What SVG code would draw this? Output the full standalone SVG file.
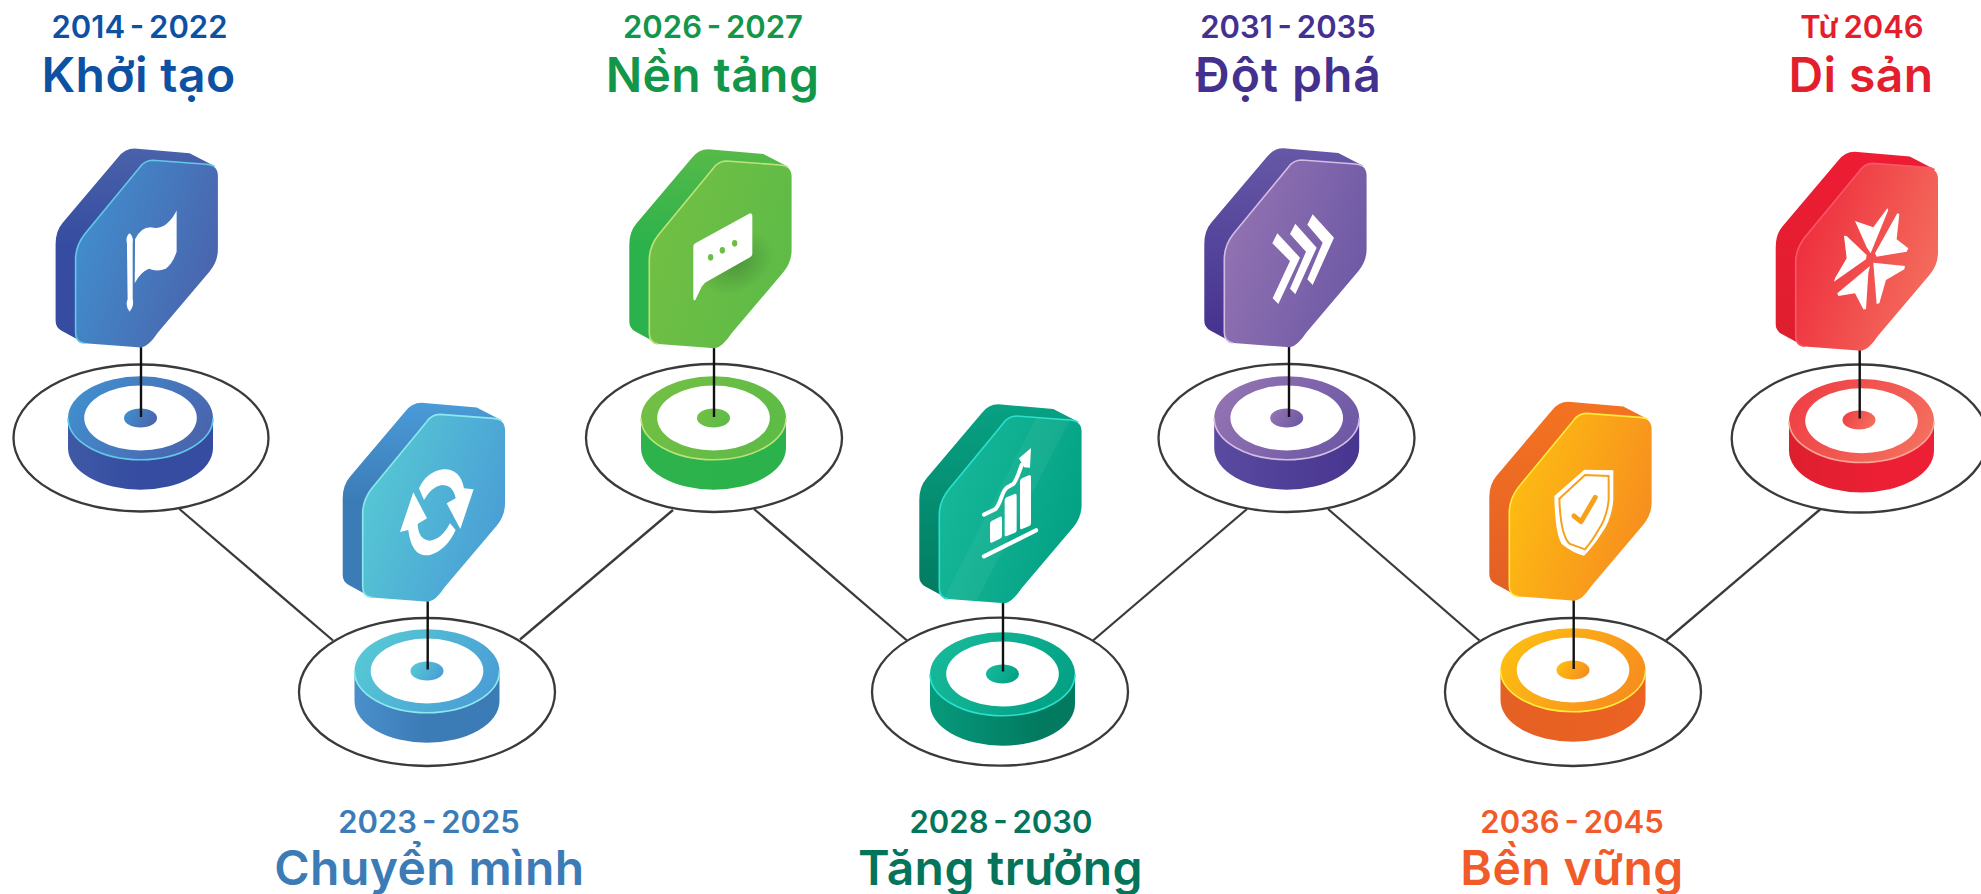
<svg xmlns="http://www.w3.org/2000/svg" width="1981" height="894" viewBox="0 0 1981 894">
<style>
.d{font:600 31px Inter,"Noto Sans",sans-serif;text-anchor:middle;word-spacing:-3px}
.t{font:600 48px Inter,"Noto Sans",sans-serif;text-anchor:middle;letter-spacing:.4px}
.big{fill:#fff;stroke:#3a3a3c;stroke-width:2.3}
.pin{stroke:#111;stroke-width:2.4;fill:none}
.conn{stroke:#3a3a3c;stroke-width:2.3;fill:none}
.hl{fill:none;stroke-width:1.6}
.ic{fill:#fff}
</style>
<defs>
<path id="face" d="M12.3-187.3L65.7-183.3Q77.3-182.3 77.3-171.7L77.3-98.3Q77.3-86 69-76L17.3-15Q8-1 .7 0L-56-4.3Q-65-5-65-15L-65-88.3Q-65-101.7-56-113.3L-1-180Q4-187.3 12.3-187.3Z"/>
<path id="back" d="M-6-199L49-194.3L72.3-182.3L0-100L-56-4.3L-79-16.7Q-85-20-85-26.7L-85-103.3Q-85-116.7-77.7-125L-22.7-190Q-16-199-6-199Z"/>
<path id="edge" d="M-56-4.3Q-65-5-65-15L-65-88.3Q-65-101.7-56-113.3L-1-180Q4-187.3 12.3-187.3L65.7-183.3Q71-183 74-181"/>
<path id="side" d="M-72.5-21V9A72.5 41.7 0 0 0 72.5 9V-21Z"/>
<path id="rimedge" d="M-72.5-21A72.5 41.7 0 0 0 72.5-21"/>
<linearGradient id="f1" x1="0" y1=".3" x2="1" y2=".7"><stop offset="0" stop-color="#418FCE"/><stop offset="1" stop-color="#4A62AC"/></linearGradient>
<linearGradient id="b1" x1="0" y1="0" x2="0" y2="1"><stop offset="0" stop-color="#4A62AA"/><stop offset=".5" stop-color="#354CA0"/></linearGradient>
<linearGradient id="s1"><stop offset="0" stop-color="#4059A6"/><stop offset=".5" stop-color="#354CA0"/></linearGradient>
<linearGradient id="f2" x1="0" y1=".3" x2="1" y2=".7"><stop offset="0" stop-color="#56C9D4"/><stop offset="1" stop-color="#4A9CD6"/></linearGradient>
<linearGradient id="b2" x1="0" y1="0" x2="0" y2="1"><stop offset="0" stop-color="#4A9BD8"/><stop offset=".5" stop-color="#3B7CB7"/></linearGradient>
<linearGradient id="s2"><stop offset="0" stop-color="#4A8FCB"/><stop offset=".5" stop-color="#3B7BB6"/></linearGradient>
<linearGradient id="f3" x1="0" y1=".3" x2="1" y2=".7"><stop offset="0" stop-color="#73BF44"/><stop offset="1" stop-color="#5CBB47"/></linearGradient>
<linearGradient id="b3" x1="0" y1="0" x2="0" y2="1"><stop offset="0" stop-color="#57BA48"/><stop offset=".5" stop-color="#2BB24C"/></linearGradient>
<linearGradient id="s3"><stop offset="0" stop-color="#2EB34B"/><stop offset="1" stop-color="#2BB24C"/></linearGradient>
<linearGradient id="f4" x1="0" y1=".3" x2="1" y2=".7"><stop offset="0" stop-color="#17B99A"/><stop offset="1" stop-color="#03A083"/></linearGradient>
<linearGradient id="b4" x1="0" y1="0" x2="0" y2="1"><stop offset="0" stop-color="#08A183"/><stop offset="1" stop-color="#027A60"/></linearGradient>
<linearGradient id="s4"><stop offset="0" stop-color="#079A7C"/><stop offset=".75" stop-color="#027A60"/></linearGradient>
<linearGradient id="f5" x1="0" y1=".3" x2="1" y2=".7"><stop offset="0" stop-color="#9373B2"/><stop offset="1" stop-color="#6C58A5"/></linearGradient>
<linearGradient id="b5" x1="0" y1="0" x2="0" y2="1"><stop offset="0" stop-color="#6658A6"/><stop offset="1" stop-color="#44318F"/></linearGradient>
<linearGradient id="s5"><stop offset="0" stop-color="#5A4AA0"/><stop offset="1" stop-color="#47358F"/></linearGradient>
<linearGradient id="f6" x1="0" y1=".3" x2="1" y2=".7"><stop offset="0" stop-color="#FDBE12"/><stop offset="1" stop-color="#F78B1F"/></linearGradient>
<linearGradient id="b6" x1="0" y1="0" x2="0" y2="1"><stop offset="0" stop-color="#F47321"/><stop offset="1" stop-color="#E25F25"/></linearGradient>
<linearGradient id="s6"><stop offset="0" stop-color="#E56024"/><stop offset="1" stop-color="#EC6322"/></linearGradient>
<linearGradient id="f7" x1="0" y1=".3" x2="1" y2=".7"><stop offset="0" stop-color="#EE2B3C"/><stop offset="1" stop-color="#F4705E"/></linearGradient>
<linearGradient id="r7" x1="0" y1=".3" x2="1" y2=".7"><stop offset="0" stop-color="#EF3F45"/><stop offset="1" stop-color="#F4705E"/></linearGradient>
<linearGradient id="b7" x1="0" y1="0" x2="0" y2="1"><stop offset="0" stop-color="#EE1C34"/><stop offset="1" stop-color="#DD1F2E"/></linearGradient>
<linearGradient id="s7"><stop offset="0" stop-color="#DD1F2E"/><stop offset=".6" stop-color="#EC1F35"/></linearGradient>
<radialGradient id="shadow"><stop offset="0" stop-color="#3f7f35" stop-opacity=".6"/><stop offset="1" stop-color="#3f7f35" stop-opacity="0"/></radialGradient>
<clipPath id="fc4"><use href="#face" transform="translate(1004.3,603.3)"/></clipPath>
</defs>

<g id="connectors">
<path class="conn" d="M179.4 509L333 640.5"/>
<path class="conn" d="M520 639.5L673 510"/>
<path class="conn" d="M754 509L907 640.5"/>
<path class="conn" d="M1093 640.5L1247 509"/>
<path class="conn" d="M1328 509L1479.5 640.5"/>
<path class="conn" d="M1666 640.5L1820.6 509"/>
</g>

<g id="node1">
<text class="d" x="139.5" y="38" fill="#0D51A3">2014 - 2022</text>
<text class="t" x="138.5" y="91.5" fill="#0D51A3">Khởi tạo</text>
<ellipse class="big" cx="141" cy="438" rx="127.5" ry="73.5"/>
<g transform="translate(140.5,439)"><use href="#side" fill="url(#s1)"/><ellipse cy="-21" rx="72.5" ry="41.7" fill="url(#f1)"/><use href="#rimedge" class="hl" stroke="#62C8E5"/><ellipse cy="-21" rx="56.3" ry="32.5" fill="#fff"/><ellipse cy="-21" rx="16.5" ry="9.5" fill="url(#f1)"/></g>
<path class="pin" d="M141 347V417"/>
<g transform="translate(140.6,347.5)"><use href="#back" fill="url(#b1)"/><use href="#face" fill="url(#f1)"/><use href="#edge" class="hl" stroke="#62C8E5"/></g>
<g transform="translate(-1.5,0) scale(.338)"><path class="ic" d="M380 720Q375 700 388 690Q400 700 397 720L397 885Q402 905 388 922Q374 905 382 885Z"/><path class="ic" d="M404 708Q420 672 450 672Q480 680 500 660Q520 640 527 622L527 745Q515 780 495 795Q470 805 445 795Q420 805 403 838Z"/></g>
</g>

<g id="node2">
<text class="d" x="429" y="833" fill="#3B7BB6">2023 - 2025</text>
<text class="t" x="429.5" y="885" fill="#3B7BB6">Chuyển mình</text>
<ellipse class="big" cx="427" cy="692" rx="128" ry="74"/>
<g transform="translate(427,692)"><use href="#side" fill="url(#s2)"/><ellipse cy="-21" rx="72.5" ry="41.7" fill="url(#f2)"/><use href="#rimedge" class="hl" stroke="#8DE8EE"/><ellipse cy="-21" rx="56.3" ry="32.5" fill="#fff"/><ellipse cy="-21" rx="16.5" ry="9.5" fill="url(#f2)"/></g>
<path class="pin" d="M427.7 601V669.5"/>
<g transform="translate(427.7,601.7)"><use href="#back" fill="url(#b2)"/><use href="#face" fill="url(#f2)"/><use href="#edge" class="hl" stroke="#8DE8EE"/></g>
<g transform="translate(280,380) scale(.3333)"><path class="ic" d="M417 325Q440 275 490 268Q540 265 552 325L581 328L541 447L500 370L527 355Q520 315 485 315Q455 320 432 360Z"/><path class="ic" d="M527 450Q500 510 450 525Q395 535 385 450L360 456L400 337L441 415L413 432Q415 480 450 482Q485 478 510 430Z"/></g>
</g>

<g id="node3">
<text class="d" x="713" y="38" fill="#11964A">2026 - 2027</text>
<text class="t" x="712.5" y="91.5" fill="#11964A">Nền tảng</text>
<ellipse class="big" cx="714" cy="438" rx="128" ry="74"/>
<g transform="translate(713.5,439)"><use href="#side" fill="url(#s3)"/><ellipse cy="-21" rx="72.5" ry="41.7" fill="url(#f3)"/><use href="#rimedge" class="hl" stroke="#BEE27A"/><ellipse cy="-21" rx="56.3" ry="32.5" fill="#fff"/><ellipse cy="-21" rx="16.5" ry="9.5" fill="url(#f3)"/></g>
<path class="pin" d="M714 348V417"/>
<g transform="translate(714.3,348.3)"><use href="#back" fill="url(#b3)"/><use href="#face" fill="url(#f3)"/><use href="#edge" class="hl" stroke="#BEE27A"/></g>
<g transform="translate(590,130) scale(.3333)"><ellipse cx="440" cy="400" rx="120" ry="85" transform="rotate(-30 440 400)" fill="url(#shadow)"/><path class="ic" d="M310 350Q310 343 316 340L480 250Q487 250 487 258L487 370Q487 378 480 382L350 455Q343 458 335 470L316 510Q310 514 310 505Z"/><g fill="#6ABD45"><ellipse cx="362" cy="382" rx="8" ry="10"/><ellipse cx="397" cy="361" rx="8" ry="10"/><ellipse cx="434" cy="340" rx="8" ry="10"/></g></g>
</g>

<g id="node4">
<text class="d" x="1001" y="833" fill="#04745A">2028 - 2030</text>
<text class="t" x="1000.5" y="885" fill="#04745A">Tăng trưởng</text>
<ellipse class="big" cx="1000" cy="691.7" rx="128" ry="74"/>
<g transform="translate(1002.5,695)"><use href="#side" fill="url(#s4)"/><ellipse cy="-21" rx="72.5" ry="41.7" fill="url(#f4)"/><use href="#rimedge" class="hl" stroke="#2CE0CF"/><ellipse cy="-21" rx="56.3" ry="32.5" fill="#fff"/><ellipse cy="-21" rx="16.5" ry="9.5" fill="url(#f4)"/></g>
<path class="pin" d="M1003 603V671.5"/>
<g transform="translate(1004.3,603.3)"><use href="#back" fill="url(#b4)"/><use href="#face" fill="url(#f4)"/><use href="#edge" class="hl" stroke="#2CE0CF"/></g>
<polygon clip-path="url(#fc4)" points="1040,410 1075,410 977,600 943,600" fill="#fff" opacity=".05"/>
<g transform="translate(900,390) scale(.3333)"><path class="ic" d="M270 402Q270 395 276 392L300 380Q306 378 306 385L306 438Q306 443 300 446L275 458Q270 460 270 453Z"/><path class="ic" d="M314 330Q314 325 320 322L344 312Q350 310 350 317L350 420Q350 426 345 428L320 438Q314 441 314 434Z"/><path class="ic" d="M360 273Q360 268 366 265L387 256Q393 254 393 260L393 400Q393 406 388 408L366 417Q360 419 360 413Z"/><path d="M252 499L408 421" stroke="#fff" stroke-width="13" stroke-linecap="round" fill="none"/><path d="M252 374L285 358Q295 350 305 320Q312 298 325 290L340 282Q350 270 365 225" stroke="#fff" stroke-width="12" stroke-linecap="round" fill="none"/><path class="ic" d="M357 205L393 174L390 233L372 232Z"/></g>
</g>

<g id="node5">
<text class="d" x="1288" y="38" fill="#44318F">2031 - 2035</text>
<text class="t" x="1288.5" y="91.5" fill="#44318F" style="letter-spacing:1px">Đột phá</text>
<ellipse class="big" cx="1286.5" cy="438" rx="128" ry="74"/>
<g transform="translate(1286.7,439)"><use href="#side" fill="url(#s5)"/><ellipse cy="-21" rx="72.5" ry="41.7" fill="url(#f5)"/><use href="#rimedge" class="hl" stroke="#D3BDE3"/><ellipse cy="-21" rx="56.3" ry="32.5" fill="#fff"/><ellipse cy="-21" rx="16.5" ry="9.5" fill="url(#f5)"/></g>
<path class="pin" d="M1289 347V417"/>
<g transform="translate(1289.3,347.3)"><use href="#back" fill="url(#b5)"/><use href="#face" fill="url(#f5)"/><use href="#edge" class="hl" stroke="#D3BDE3"/></g>
<g transform="translate(1190,130) scale(.3333)" class="ic"><path d="M262 310L330 383L265 522L248 505L300 393L247 340Z"/><path d="M316 281L380 353L316 493L300 476L348 365L300 312Z"/><path d="M368 253L432 323L368 465L352 448L398 338L352 284Z"/></g>
</g>

<g id="node6">
<text class="d" x="1572" y="833" fill="#F15A29">2036 - 2045</text>
<text class="t" x="1572" y="885" fill="#F15A29">Bền vững</text>
<ellipse class="big" cx="1573" cy="692" rx="128" ry="74"/>
<g transform="translate(1573,691)"><use href="#side" fill="url(#s6)"/><ellipse cy="-21" rx="72.5" ry="41.7" fill="url(#f6)"/><use href="#rimedge" class="hl" stroke="#FFEB3B"/><ellipse cy="-21" rx="56.3" ry="32.5" fill="#fff"/><ellipse cy="-21" rx="16.5" ry="9.5" fill="url(#f6)"/></g>
<path class="pin" d="M1573.7 600V669"/>
<g transform="translate(1574.3,600.7)"><use href="#back" fill="url(#b6)"/><use href="#face" fill="url(#f6)"/><use href="#edge" class="hl" stroke="#FFEB3B"/></g>
<g transform="translate(1470,390) scale(.3333)"><path class="ic" d="M343 239L430 241L430 330Q425 390 395 430Q370 470 342 497Q310 490 275 462Q255 430 253 318Z"/><path d="M345 255L416 258L416 330Q410 385 385 420Q365 455 345 478L300 462Q272 440 268 326Z" fill="#fff" stroke="#F9A01B" stroke-width="6"/><path d="M312 378L333 395L376 322" fill="none" stroke="#F9A01B" stroke-width="15" stroke-linecap="round" stroke-linejoin="round"/></g>
</g>

<g id="node7">
<text class="d" x="1862" y="38" fill="#E31E2D">Từ 2046</text>
<text class="t" x="1861" y="91.5" fill="#E31E2D">Di sản</text>
<ellipse class="big" cx="1859.7" cy="438.5" rx="128" ry="74"/>
<g transform="translate(1861.5,441.8)"><use href="#side" fill="url(#s7)"/><ellipse cy="-21" rx="72.5" ry="41.7" fill="url(#r7)"/><use href="#rimedge" class="hl" stroke="#F9A594"/><ellipse cy="-21" rx="56.3" ry="32.5" fill="#fff"/><ellipse cx="-2.5" cy="-21.8" rx="16.5" ry="9.5" fill="url(#r7)"/></g>
<path class="pin" d="M1859.7 350V418.5"/>
<g transform="translate(1860.7,350.7)"><use href="#back" fill="url(#b7)"/><use href="#face" fill="url(#f7)"/><use href="#edge" class="hl" stroke="#F9566A"/></g>
<g transform="translate(1760,140) scale(.3333)" class="ic"><path d="M285 243L340 262L382 205L385 210L332 340L320 322Z"/><path d="M412 220L418 222L410 298L445 325L440 335L350 350L345 340Z"/><path d="M252 287L260 288L320 345L318 358L222 425L225 415L260 355Z"/><path d="M330 378L325 400L318 508L310 508L285 460L235 468L232 460Z"/><path d="M340 368L435 378L433 388L378 420L358 490L350 492Z"/></g>
</g>
</svg>
